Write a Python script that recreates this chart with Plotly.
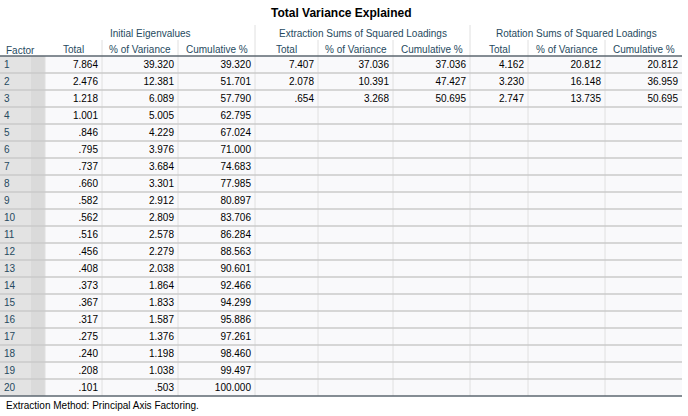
import plotly.graph_objects as go

# Table values (SPSS: Total Variance Explained)
factors = list(range(1, 21))
init_total = [7.864, 2.476, 1.218, 1.001, .846, .795, .737, .660, .582, .562,
              .516, .456, .408, .373, .367, .317, .275, .240, .208, .101]
init_pct = [39.320, 12.381, 6.089, 5.005, 4.229, 3.976, 3.684, 3.301, 2.912, 2.809,
            2.578, 2.279, 2.038, 1.864, 1.833, 1.587, 1.376, 1.198, 1.038, .503]
init_cum = [39.320, 51.701, 57.790, 62.795, 67.024, 71.000, 74.683, 77.985, 80.897, 83.706,
            86.284, 88.563, 90.601, 92.466, 94.299, 95.886, 97.261, 98.460, 99.497, 100.000]
ext_total = [7.407, 2.078, .654]
ext_pct = [37.036, 10.391, 3.268]
ext_cum = [37.036, 47.427, 50.695]
rot_total = [4.162, 3.230, 2.747]
rot_pct = [20.812, 16.148, 13.735]
rot_cum = [20.812, 36.959, 50.695]

groups = ["Initial Eigenvalues", "Extraction Sums of Squared Loadings",
          "Rotation Sums of Squared Loadings"]
col_labels = ["Total", "% of Variance", "Cumulative %"]
title = "Total Variance Explained"
footnote = "Extraction Method: Principal Axis Factoring."

# layout (pixels)
W, H = 688, 416
edges = [0, 45, 102, 178, 255, 318, 393, 470, 528, 605, 682]
top_grp, top_col, top_data, row_h = 25, 40, 56, 17
n = len(factors)
bottom = top_data + row_h * n
FONT = "Liberation Sans, Arial, sans-serif"
LABEL = "#264a60"


def fmt(v):
    s = f"{v:.3f}"
    return s[1:] if s.startswith("0.") else s


columns = [init_total, init_pct, init_cum, ext_total, ext_pct, ext_cum,
           rot_total, rot_pct, rot_cum]

shapes = []
# backgrounds
shapes.append(dict(type="rect", x0=edges[1], x1=edges[-1], y0=top_data, y1=bottom,
                   fillcolor="#f9f9fb", line_width=0, layer="below"))
shapes.append(dict(type="rect", x0=0, x1=edges[1], y0=top_data, y1=bottom,
                   fillcolor="#e3e3e3", line_width=0, layer="below"))
shapes.append(dict(type="rect", x0=edges[1] - 14, x1=edges[1], y0=top_data, y1=bottom,
                   fillcolor="#dadada", line_width=0, layer="below"))
# vertical lines in body
for x in edges[1:-1]:
    shapes.append(dict(type="line", x0=x, x1=x, y0=top_data, y1=bottom,
                       line=dict(color="#e0e0e0", width=1)))
# vertical lines in header
for i, x in enumerate(edges[2:-1]):
    y0 = top_grp if (i + 1) % 3 == 0 else top_col
    shapes.append(dict(type="line", x0=x, x1=x, y0=y0, y1=top_data,
                       line=dict(color="#e0e0e0", width=1)))
# row separators
for i in range(1, n):
    y = top_data + row_h * i
    shapes.append(dict(type="line", x0=0, x1=edges[-1], y0=y, y1=y,
                       line=dict(color="#cacaca", width=1.5)))
for y in (top_data, bottom):
    shapes.append(dict(type="line", x0=0, x1=edges[-1], y0=y, y1=y,
                       line=dict(color="#5c6770", width=1.5)))

fig = go.Figure()
ys = [top_data + row_h * (i + 0.5) + 1 for i in range(n)]

# factor labels
fig.add_trace(go.Scatter(x=[4] * n, y=ys, mode="text", text=[str(f) for f in factors],
                         textposition="middle right", hoverinfo="skip",
                         textfont=dict(family=FONT, size=10, color=LABEL)))
# numeric columns
for j, vals in enumerate(columns):
    xr = edges[j + 2] - 4
    fig.add_trace(go.Scatter(x=[xr] * len(vals), y=ys[:len(vals)], mode="text",
                             text=[fmt(v) for v in vals], textposition="middle left",
                             hoverinfo="skip",
                             textfont=dict(family=FONT, size=10, color="#000000")))

ann = []
ann.append(dict(x=(edges[0] + edges[-1]) / 2, y=13, text="<b>" + title + "</b>",
                showarrow=False, font=dict(family=FONT, size=12, color="#000000")))
for g, name in enumerate(groups):
    ann.append(dict(x=(edges[1 + 3 * g] + edges[4 + 3 * g]) / 2, y=(top_grp + top_col) / 2 + 1,
                    text=name, showarrow=False,
                    font=dict(family=FONT, size=10, color=LABEL)))
    for k, lab in enumerate(col_labels):
        c = 1 + 3 * g + k
        ann.append(dict(x=(edges[c] + edges[c + 1]) / 2, y=(top_col + top_data) / 2 + 1,
                        text=lab, showarrow=False,
                        font=dict(family=FONT, size=10, color=LABEL)))
ann.append(dict(x=4, y=(top_col + top_data) / 2 + 2, text="Factor", showarrow=False,
                xanchor="left", font=dict(family=FONT, size=10, color=LABEL)))
ann.append(dict(x=4, y=bottom + 9, text=footnote, showarrow=False, xanchor="left",
                font=dict(family=FONT, size=10, color="#000000")))

fig.update_layout(
    width=W, height=H, margin=dict(l=0, r=0, t=0, b=0),
    paper_bgcolor="white", plot_bgcolor="white", showlegend=False,
    xaxis=dict(range=[0, W], visible=False, fixedrange=True),
    yaxis=dict(range=[H, 0], visible=False, fixedrange=True),
    shapes=shapes, annotations=ann,
)

# drop the page's default body margin so the table sits at the window edge
fig.write_html("out.html", config={"displayModeBar": False},
               post_script="document.body.style.margin='0';")
